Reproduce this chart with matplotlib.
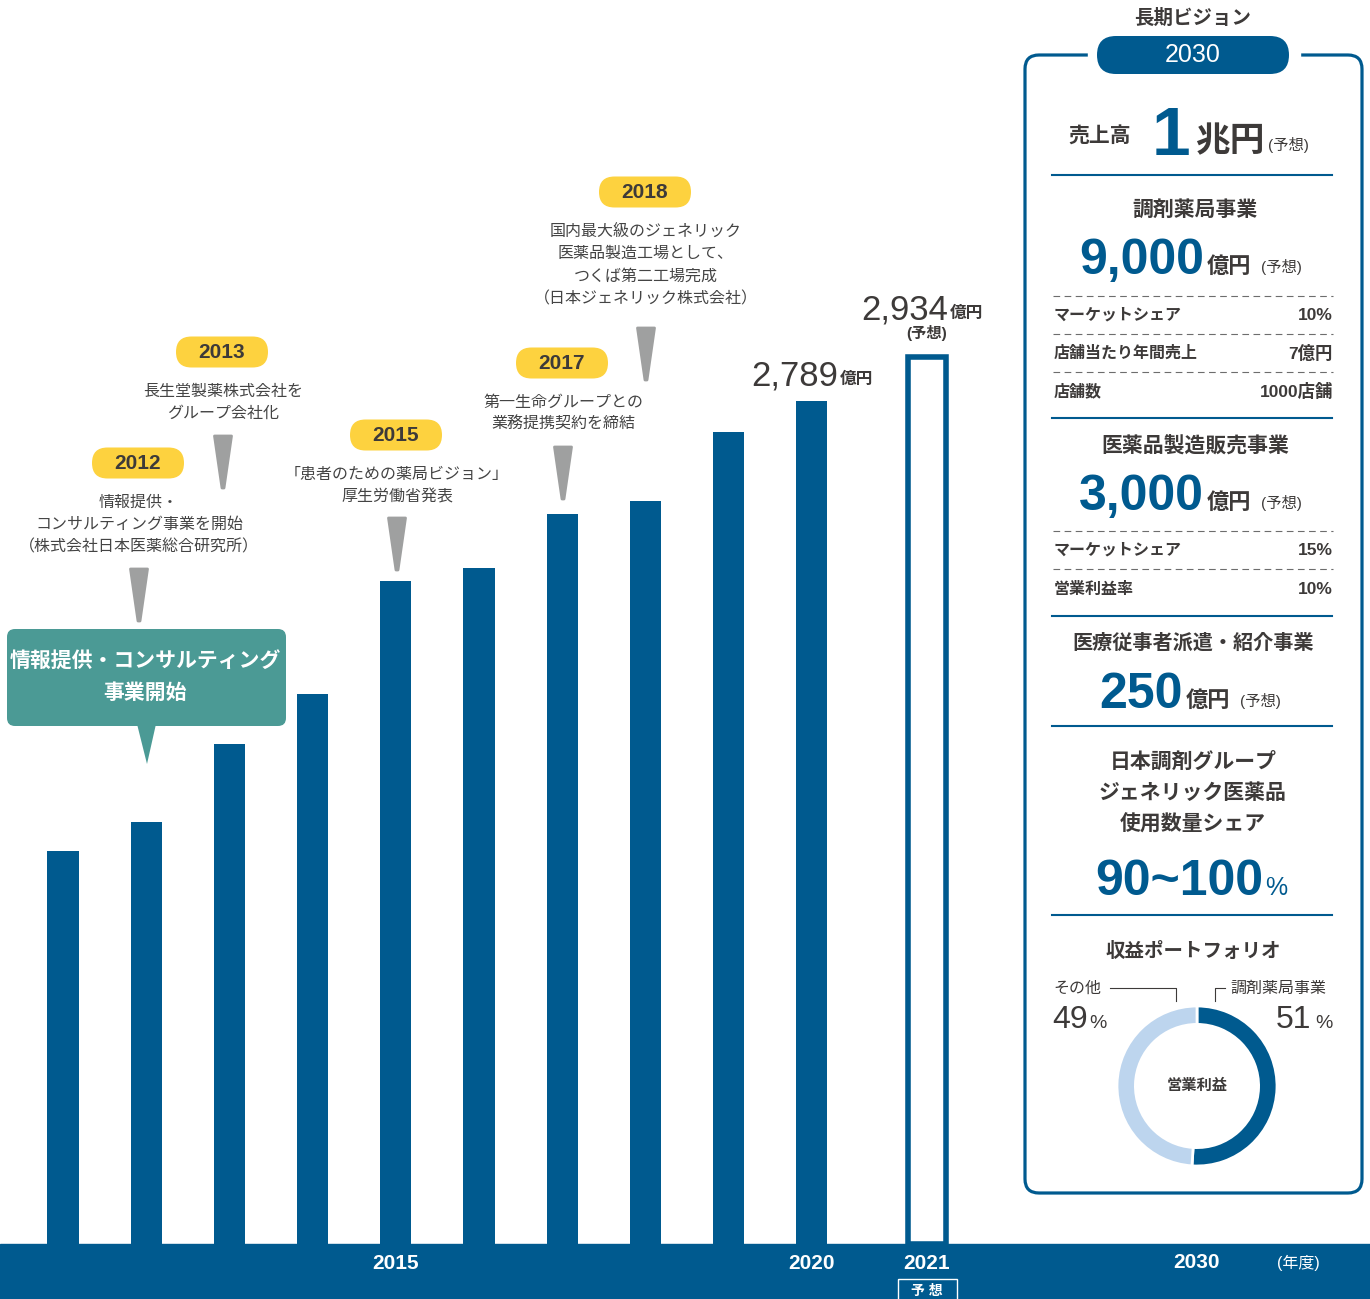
"""
Sales history bars + 2030 long-term vision panel
"""
import numpy as np
import matplotlib.pyplot as plt
from matplotlib.patches import FancyBboxPatch, Rectangle, Polygon

plt.rcParams['font.family'] = ['Liberation Sans', 'Noto Sans CJK JP']

# ---- data ----
years = [2011, 2012, 2013, 2014, 2015, 2016, 2017, 2018, 2019, 2020]
sales = [1300, 1396, 1654, 1820, 2193, 2236, 2415, 2458, 2686, 2789]
forecast_year = 2021
forecast_sales = 2934
tick_years = [2015, 2020]
vision_year = 2030

milestone_years = ['2012', '2013', '2015', '2017', '2018']
milestone_texts = [
    ['情報提供・', 'コンサルティング事業を開始', '（株式会社日本医薬総合研究所）'],
    ['長生堂製薬株式会社を', 'グループ会社化'],
    ['「患者のための薬局ビジョン」', '厚生労働省発表'],
    ['第一生命グループとの', '業務提携契約を締結'],
    ['国内最大級のジェネリック', '医薬品製造工場として、', 'つくば第二工場完成', '（日本ジェネリック株式会社）'],
]
callout_lines = ['情報提供・コンサルティング', '事業開始']

vision_sales = '1'
segment_names = ['調剤薬局事業', '医薬品製造販売事業', '医療従事者派遣・紹介事業']
segment_values = ['9,000', '3,000', '250']
pharmacy_rows = [('マーケットシェア', '10%'), ('店舗当たり年間売上', '7億円'), ('店舗数', '1000店舗')]
maker_rows = [('マーケットシェア', '15%'), ('営業利益率', '10%')]
generic_lines = ['日本調剤グループ', 'ジェネリック医薬品', '使用数量シェア']
generic_share = '90~100'
profit_labels = ['調剤薬局事業', 'その他']
profit_share = [51, 49]

BLUE = '#005a8f'
TEAL = '#4b9a95'
YELLOW = '#fdd23f'
ARROW = '#9fa0a0'
DARK = '#3d3a39'
LIGHT = '#bdd5ee'

W, H = 1370, 1299
fig = plt.figure(figsize=(W / 100, H / 100), dpi=100)

# overlay in pixel coordinates
ov = fig.add_axes([0, 0, 1, 1], zorder=0)
ov.set_xlim(0, W)
ov.set_ylim(H, 0)
ov.axis('off')


def txt(x, y, s, size, weight='normal', color=DARK, ha='center', va='center', **kw):
    ov.text(x, y, s, fontsize=size, fontweight=weight, color=color, ha=ha, va=va, **kw)


# ---- bars ----
ax = fig.add_axes([0, 55 / H, 1, 1244 / H], zorder=1)
ax.set_facecolor('none')
forecast_x = forecast_year + 0.385
ax.bar(years, sales, width=0.373, color=BLUE)
ax.bar([forecast_x], [forecast_sales], width=0.45, facecolor='white', edgecolor=BLUE, linewidth=4)
ax.set_xlim(2011 - 63 / 83.2, 2011 + (W - 63) / 83.2)
ax.set_ylim(0, 2789 * 1244 / 843)
ax.set_xticks(tick_years + [forecast_x])
ax.set_xticklabels([str(y) for y in tick_years] + [str(forecast_year)],
                   color='white', fontsize=15, fontweight='bold')
ax.tick_params(axis='x', length=0, pad=7)
ax.set_yticks([])
for s in ax.spines.values():
    s.set_visible(False)

# bottom band
ov.add_patch(Rectangle((0, 1244), W, 60, color=BLUE, zorder=1))
txt(1197, 1263, str(vision_year), 15, 'bold', 'white', zorder=3)
txt(1298, 1263, '(年度)', 11.5, color='white', zorder=3)
ov.add_patch(Rectangle((898, 1279), 59, 30, fc='none', ec='white', lw=1, zorder=3))
txt(927, 1291, '予 想', 10, 'bold', 'white', zorder=3)

# value labels
txt(838, 385, f'{sales[-1]:,}', 25, ha='right', va='baseline')
txt(840, 384, '億円', 12, 'bold', ha='left', va='baseline')
txt(948, 319, f'{forecast_sales:,}', 25, ha='right', va='baseline')
txt(950, 318, '億円', 12, 'bold', ha='left', va='baseline')
txt(927, 333, '(予想)', 11, 'bold')


# ---- milestones ----
def pill(cx, cy, w, h, color, label, size, tcolor, weight='bold'):
    ov.add_patch(FancyBboxPatch((cx - w / 2, cy - h / 2), w, h,
                                boxstyle=f'round,pad=0,rounding_size={h / 2}',
                                fc=color, ec='none', zorder=2))
    txt(cx, cy, label, size, weight, tcolor, zorder=3)


def drop(cx, top, h=52, w=17):
    ov.add_patch(Polygon([(cx - w / 2, top), (cx + w / 2, top), (cx + 1, top + h), (cx - 1, top + h)],
                         closed=True, fc=ARROW, ec=ARROW, lw=2, joinstyle='round', zorder=2))


pill_pos = [(138, 463), (222, 352), (396, 435), (562, 363), (645, 192)]
arrow_top = [569, 436, 518, 447, 328]
for (cx, cy), yr, lines, at in zip(pill_pos, milestone_years, milestone_texts, arrow_top):
    pill(cx, cy, 92, 31, YELLOW, yr, 15, DARK)
    for i, ln in enumerate(lines):
        txt(cx + 1, cy + 39 + i * 22.5, ln, 11.5, color='#444444')
    drop(cx + 1, at)

# teal callout
ov.add_patch(FancyBboxPatch((7, 629), 279, 97, boxstyle='round,pad=0,rounding_size=8',
                            fc=TEAL, ec='none', zorder=2))
ov.add_patch(Polygon([(137, 724), (156, 724), (147, 764)], closed=True, fc=TEAL, ec='none', zorder=2))
txt(145, 662, callout_lines[0], 15, 'bold', 'white', zorder=3)
txt(145, 693, callout_lines[1], 15, 'bold', 'white', zorder=3)

# ---- vision panel ----
ov.add_patch(FancyBboxPatch((1025, 55), 337, 1138, boxstyle='round,pad=0,rounding_size=14',
                            fc='white', ec=BLUE, lw=2.3, zorder=1))
ov.add_patch(Rectangle((1088, 48), 212, 14, color='white', zorder=1.5))
txt(1193, 18, '長期ビジョン', 14, 'bold')
pill(1193, 55, 192, 38, BLUE, str(vision_year), 18, 'white', weight='normal')

L, R = 1053, 1333


def rule(y):
    ov.plot([L - 1, R - 1], [y, y], color=BLUE, lw=1.5, zorder=2)


def dash(y):
    ov.plot([L, R], [y, y], color='#6d6d6d', lw=0.8, ls=(0, (6, 4)), zorder=2)


def big(xr, yb, num, size=36, unit='億円', unit_size=16):
    txt(xr, yb, num, size, 'bold', BLUE, ha='right', va='baseline')
    txt(xr + 3, yb - 1, unit, unit_size, 'bold', ha='left', va='baseline')
    txt(xr + 57, yb - 2, '(予想)', 11, ha='left', va='baseline')


txt(1100, 137, '売上高', 15, 'bold')
txt(1190, 155, vision_sales, 50, 'bold', BLUE, ha='right', va='baseline')
txt(1195, 151, '兆円', 25, 'bold', ha='left', va='baseline')
txt(1268, 150, '(予想)', 11, ha='left', va='baseline')
rule(175)

txt(1195, 210, segment_names[0], 15, 'bold')
big(1204, 274, segment_values[0])
for y in [296, 334, 372]:
    dash(y)
for (lab, val), y in zip(pharmacy_rows, [315, 353, 391]):
    txt(L + 1, y, lab, 11.5, 'bold', ha='left')
    txt(R, y, val, 12.5, 'bold', ha='right')
rule(418)

txt(1195, 446, segment_names[1], 15, 'bold')
big(1204, 510, segment_values[1])
for y in [531, 569]:
    dash(y)
for (lab, val), y in zip(maker_rows, [550, 589]):
    txt(L + 1, y, lab, 11.5, 'bold', ha='left')
    txt(R, y, val, 12.5, 'bold', ha='right')
rule(616)

txt(1193, 643, segment_names[2], 14.5, 'bold')
big(1183, 708, segment_values[2])
rule(726)

for i, ln in enumerate(generic_lines):
    txt(1193, 762 + i * 31, ln, 15, 'bold')
txt(1263, 895, generic_share, 36, 'bold', BLUE, ha='right', va='baseline')
txt(1265, 895, '%', 18, color=BLUE, ha='left', va='baseline')
rule(915)

txt(1193, 951, '収益ポートフォリオ', 14, 'bold')
txt(1053, 988, profit_labels[1], 11.5, ha='left')
ov.plot([1110, 1176, 1176], [988, 988, 1001], color=DARK, lw=0.8, zorder=2)
txt(1230, 988, profit_labels[0], 11.5, ha='left')
ov.plot([1225, 1215, 1215], [988, 988, 1001], color=DARK, lw=0.8, zorder=2)
txt(1052, 1028, str(profit_share[1]), 23, ha='left', va='baseline')
txt(1089, 1028, '%', 14, ha='left', va='baseline')
txt(1311, 1028, str(profit_share[0]), 23, ha='right', va='baseline')
txt(1333, 1028, '%', 14, ha='right', va='baseline')

# donut
pa = fig.add_axes([(1197 - 80) / W, (H - 1086 - 80) / H, 160 / W, 160 / H], zorder=2)
pa.pie(profit_share, colors=[BLUE, LIGHT], startangle=90, counterclock=False, radius=1,
       wedgeprops=dict(width=0.23, edgecolor='white', linewidth=2))
pa.set_xlim(-1, 1)
pa.set_ylim(-1, 1)
pa.set_aspect('equal')
pa.text(0, 0, '営業利益', fontsize=11, fontweight='bold', color=DARK, ha='center', va='center')

fig.savefig('out.png', dpi=100)
